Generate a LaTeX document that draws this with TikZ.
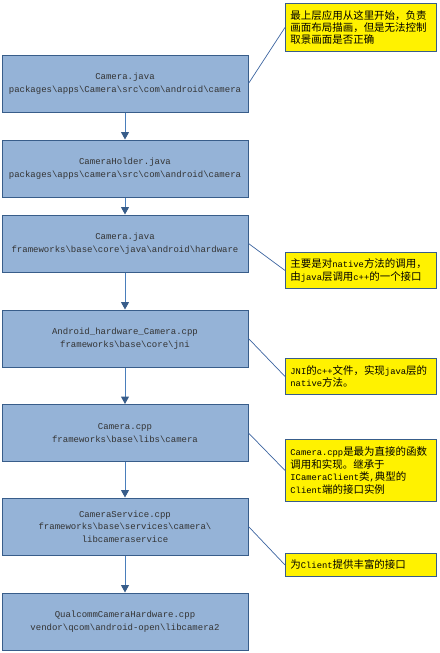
\documentclass[tikz,border=0pt]{standalone}
\usepackage{fontspec}
\setmainfont{Liberation Mono}
\newfontfamily\cjk{Noto Sans CJK SC}[Scale=1.19]
\usetikzlibrary{arrows.meta}
\definecolor{boxfill}{RGB}{149,179,215}
\definecolor{boxline}{RGB}{56,93,138}
\definecolor{arrline}{RGB}{74,126,187}
\definecolor{calline}{RGB}{60,100,160}
\newcommand\zh[1]{{\cjk #1}}
\tikzset{
  stepbox/.style={draw=boxline, line width=1pt, fill=boxfill, minimum width=246pt,
    minimum height=57pt, align=center, text=black!80, inner sep=0pt,
    font=\fontsize{9}{12.5}\selectfont},
  notebox/.style={draw=boxline, line width=0.9pt, fill=yellow, anchor=north west,
    text width=141pt, inner xsep=5pt, inner ysep=0pt, align=left, text=black,
    font=\fontsize{8.8}{12.4}\selectfont},
  arr/.style={draw=arrline, line width=1pt, -{Triangle[length=7.5pt,width=8pt,fill=boxline,color=boxline]}},
  callout/.style={draw=calline, line width=0.7pt}
}
\begin{document}
\begin{tikzpicture}[x=1pt,y=-1pt]
\useasboundingbox (0,0) rectangle (439,653);
\node[stepbox] (b1) at (125,83.5) {Camera.java\\packages\textbackslash apps\textbackslash Camera\textbackslash src\textbackslash com\textbackslash android\textbackslash camera};
\node[stepbox] (b2) at (125,168.5) {CameraHolder.java\\packages\textbackslash apps\textbackslash camera\textbackslash src\textbackslash com\textbackslash android\textbackslash camera};
\node[stepbox] (b3) at (125,243.5) {Camera.java\\frameworks\textbackslash base\textbackslash core\textbackslash java\textbackslash android\textbackslash hardware};
\node[stepbox] (b4) at (125,338.5) {Android\_hardware\_Camera.cpp\\frameworks\textbackslash base\textbackslash core\textbackslash jni};
\node[stepbox] (b5) at (125,433) {Camera.cpp\\frameworks\textbackslash base\textbackslash libs\textbackslash camera};
\node[stepbox] (b6) at (125,526.5) {CameraService.cpp\\frameworks\textbackslash base\textbackslash services\textbackslash camera\textbackslash\\libcameraservice};
\node[stepbox] (b7) at (125,621.5) {QualcommCameraHardware.cpp\\vendor\textbackslash qcom\textbackslash android-open\textbackslash libcamera2};

\draw[arr] (b1) -- (b2);
\draw[arr] (b2) -- (b3);
\draw[arr] (b3) -- (b4);
\draw[arr] (b4) -- (b5);
\draw[arr] (b5) -- (b6);
\draw[arr] (b6) -- (b7);

\node[notebox, minimum height=48pt] (n1) at (285,3) {\zh{最上层应用从这里开始，负责}\\\zh{画面布局描画，但是无法控制}\\\zh{取景画面是否正确}};
\node[notebox, minimum height=36pt] (n2) at (285,252) {\zh{主要是对}native\zh{方法的调用，}\\\zh{由}java\zh{层调用}c++\zh{的一个接口}};
\node[notebox, minimum height=36pt] (n3) at (285,358) {JNI\zh{的}c++\zh{文件，实现}java\zh{层的}\\native\zh{方法。}};
\node[notebox, minimum height=62pt] (n4) at (285,439) {Camera.cpp\zh{是最为直接的函数}\\\zh{调用和实现。继承于}\\ICameraClient\zh{类},\zh{典型的}\\Client\zh{端的接口实例}};
\node[notebox, minimum height=23pt] (n5) at (285,553) {\zh{为}Client\zh{提供丰富的接口}};

\draw[callout] (b1.east) -- (n1.west);
\draw[callout] (b3.east) -- (n2.west);
\draw[callout] (b4.east) -- (n3.west);
\draw[callout] (b5.east) -- (n4.west);
\draw[callout] (b6.east) -- (n5.west);
\end{tikzpicture}
\end{document}
